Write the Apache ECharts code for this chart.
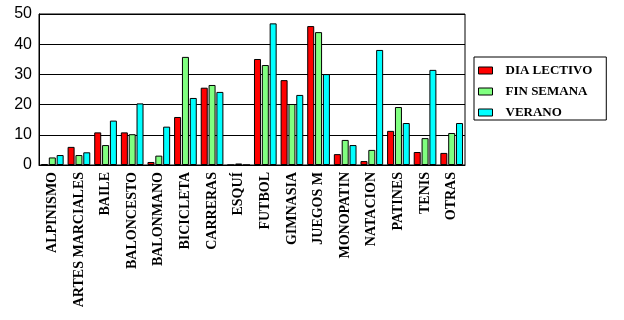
<!DOCTYPE html>
<html><head><meta charset="utf-8">
<script src="https://cdn.jsdelivr.net/npm/echarts@6/dist/echarts.min.js"></script>
<style>html,body{margin:0;padding:0;background:#fff}#c{width:624px;height:320px}</style>
</head><body><div id="c"></div>
<script>
const categories = ["ALPINISMO","ARTES MARCIALES","BAILE","BALONCESTO","BALONMANO","BICICLETA","CARRERAS","ESQUÍ","FUTBOL","GIMNASIA","JUEGOS M","MONOPATIN","NATACION","PATINES","TENIS","OTRAS"];
const diaLectivo = [0.3, 6.0, 10.8, 10.8, 1.0, 15.9, 25.6, 0, 35.1, 28.1, 46.0, 3.6, 1.3, 11.3, 4.3, 4.0];
const finSemana  = [2.5, 3.3, 6.6, 10.2, 3.1, 35.8, 26.5, 0.5, 33.1, 20.2, 44.0, 8.3, 5.0, 19.2, 8.9, 10.6];
const verano     = [3.3, 4.2, 14.7, 20.4, 12.7, 22.2, 24.2, 0, 46.9, 23.2, 30.1, 6.6, 38.1, 13.9, 31.5, 13.9];
const yTicks = [0, 10, 20, 30, 40, 50];

const chart = echarts.init(document.getElementById('c'), null, {renderer:'canvas'});
const bar = (name, data, color) => ({
  name, type:'bar', data, barWidth:7, barGap:'12%', barCategoryGap:'12%',
  itemStyle:{color, borderColor:'#000', borderWidth:1}
});
chart.setOption({
  animation:false,
  backgroundColor:'#fff',
  grid:{left:39, right:159, top:14, bottom:155, show:true, borderColor:'#000', borderWidth:1},
  legend:{
    orient:'vertical', left:474, top:57, width:133,
    padding:[7,14,1,4], itemGap:8, icon:'rect',
    borderColor:'#000', borderWidth:1,
    itemWidth:14, itemHeight:7,
    itemStyle:{borderColor:'#000', borderWidth:1},
    textStyle:{fontFamily:'Liberation Serif', fontWeight:'bold', fontSize:13, color:'#000', padding:[0,0,0,8]},
    data:['DIA LECTIVO','FIN SEMANA','VERANO']
  },
  xAxis:{
    type:'category', data:categories,
    axisLine:{lineStyle:{color:'#000', width:1}},
    axisTick:{show:false},
    axisLabel:{rotate:90, interval:0, margin:7, fontFamily:'Liberation Serif', fontWeight:'bold', fontSize:14, color:'#000'}
  },
  yAxis:{
    type:'value', min:yTicks[0], max:yTicks[yTicks.length-1], interval:10,
    axisLine:{show:true, lineStyle:{color:'#000'}},
    axisTick:{show:false},
    splitLine:{lineStyle:{color:'#000', width:1}},
    axisLabel:{fontFamily:'Liberation Sans', fontSize:16, color:'#000', margin:7}
  },
  series:[
    bar('DIA LECTIVO', diaLectivo, '#ff0000'),
    bar('FIN SEMANA', finSemana, '#80ff80'),
    bar('VERANO', verano, '#00ffff')
  ]
});
</script></body></html>
